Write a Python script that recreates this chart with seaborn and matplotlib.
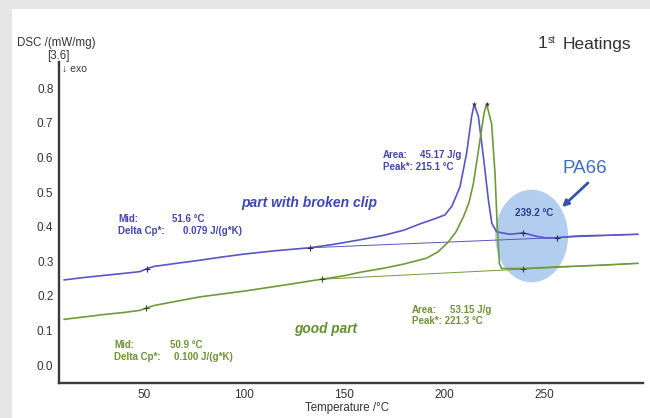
import numpy as np
import pandas as pd
import matplotlib
matplotlib.use("Agg")
import matplotlib.pyplot as plt
from matplotlib.patches import Ellipse, Rectangle, FancyArrowPatch
from matplotlib.ticker import MultipleLocator
import seaborn as sns

# ---------------- data ----------------
broken_T = [10, 20, 30, 40, 48, 51.6, 55, 65, 78, 90, 100.5, 115, 133, 145, 158, 170,
            180, 188, 195, 200.5, 204, 208, 211.3, 213.8, 215.1, 217.2, 219.7, 222.2,
            223.9, 226.3, 233, 239.7, 246.3, 251.3, 256.3, 266.3, 280, 297]
broken_dsc = [0.246, 0.253, 0.259, 0.265, 0.270, 0.279, 0.285, 0.293, 0.303, 0.313, 0.321,
              0.330, 0.339, 0.349, 0.362, 0.375, 0.390, 0.408, 0.422, 0.434, 0.460, 0.515,
              0.612, 0.718, 0.754, 0.718, 0.602, 0.477, 0.410, 0.385, 0.378, 0.382, 0.372,
              0.367, 0.368, 0.373, 0.375, 0.378]

good_T = [10, 20, 30, 40, 48, 50.9, 55, 65, 78, 90, 100.5, 120, 138.8, 150, 158, 170, 180,
          191.3, 197, 202.2, 206, 209.7, 212.5, 214.7, 218, 220, 221.3, 223.8, 225.5,
          226.7, 227.7, 228.8, 239.7, 258, 280, 297]
good_dsc = [0.132, 0.139, 0.146, 0.152, 0.158, 0.164, 0.172, 0.183, 0.197, 0.206, 0.214,
            0.231, 0.248, 0.258, 0.268, 0.280, 0.292, 0.309, 0.327, 0.356, 0.385, 0.428,
            0.470, 0.525, 0.650, 0.728, 0.754, 0.698, 0.554, 0.390, 0.294, 0.279, 0.279,
            0.284, 0.289, 0.294]

broken_base_T = [133, 297]
broken_base_dsc = [0.339, 0.378]
good_base_T = [138.8, 297]
good_base_dsc = [0.248, 0.294]

broken_marks_T = [51.6, 133, 239.7, 256.3]
broken_marks_dsc = [0.279, 0.339, 0.382, 0.368]
good_marks_T = [50.9, 138.8, 239.7]
good_marks_dsc = [0.164, 0.248, 0.279]
peaks_T = [215.1, 221.3]
peaks_dsc = [0.754, 0.754]

x_ticks = [50, 100, 150, 200, 250]
y_ticks = [0.0, 0.1, 0.2, 0.3, 0.4, 0.5, 0.6, 0.7, 0.8]

BLUE = "#5856c4"
GREEN = "#6f9a3c"
BLUE_TXT = "#4446a8"
GREEN_TXT = "#6f9236"

# ---------------- figure ----------------
sns.set_theme(style="white")
plt.rcParams["font.family"] = ["Liberation Sans", "DejaVu Sans"]

W, H = 650, 418
fig = plt.figure(figsize=(W / 100, H / 100), dpi=100, facecolor="#e6e6e6")
fig.patches.append(Rectangle((12 / W, 0), 1, (H - 9) / H, transform=fig.transFigure,
                             facecolor="white", edgecolor="none", zorder=-10))


def fx(x):
    return x / W


def fy(y):
    return 1 - y / H


ax = fig.add_axes([fx(59), fy(383), (643 - 59) / W, (383 - 62) / H])
ax.set_facecolor("none")

curves = pd.concat([
    pd.DataFrame({"T": broken_T, "DSC": broken_dsc, "sample": "broken"}),
    pd.DataFrame({"T": good_T, "DSC": good_dsc, "sample": "good"}),
])
bases = pd.concat([
    pd.DataFrame({"T": broken_base_T, "DSC": broken_base_dsc, "sample": "broken"}),
    pd.DataFrame({"T": good_base_T, "DSC": good_base_dsc, "sample": "good"}),
])
pal = {"broken": BLUE, "good": GREEN}

ax.add_patch(Ellipse((243.8, 0.373), 36.5, 0.268, facecolor="#abc8ee",
                     edgecolor="none", alpha=0.9, zorder=1))

sns.lineplot(data=bases, x="T", y="DSC", hue="sample", palette=pal, lw=0.7,
             legend=False, ax=ax, zorder=2, sort=False)
sns.lineplot(data=curves, x="T", y="DSC", hue="sample", palette=pal, lw=1.2,
             legend=False, ax=ax, zorder=3, sort=False)

ax.scatter(broken_marks_T, broken_marks_dsc, marker="+", s=24, color="#2a2a60",
           lw=0.8, zorder=4)
ax.scatter(good_marks_T, good_marks_dsc, marker="+", s=24, color="#3a4a20",
           lw=0.8, zorder=4)
ax.scatter(peaks_T, peaks_dsc, marker="*", s=16, color="#333333", lw=0, zorder=4)

ax.set_xlim(7.5, 299.5)
ax.set_ylim(-0.052, 0.876)
ax.set_xticks(x_ticks)
ax.set_yticks(y_ticks)
ax.set_yticklabels([f"{v:.1f}" for v in y_ticks])
ax.xaxis.set_minor_locator(MultipleLocator(10))
ax.yaxis.set_minor_locator(MultipleLocator(0.02))
for s in ["top", "right"]:
    ax.spines[s].set_visible(False)
for s in ["left", "bottom"]:
    ax.spines[s].set_color("#3a3a3a")
    ax.spines[s].set_linewidth(1.7)
ax.tick_params(axis="both", which="major", direction="inout", length=4, width=0.8,
               colors="#444444", labelsize=8.5, labelcolor="#333333", pad=2)
ax.tick_params(axis="both", which="minor", direction="inout", length=2.5, width=0.6,
               colors="#555555")
ax.set_xlabel("")
ax.set_ylabel("")

# ---------------- texts ----------------
small = dict(fontsize=8.3, color="#333333", va="center")
fig.text(fx(17), fy(43), "DSC /(mW/mg)", **small)
fig.text(fx(47), fy(56), "[3.6]", **small)
fig.text(fx(62), fy(69), "\u2193 exo", fontsize=7.5, color="#333333", va="center")
fig.text(fx(347), fy(408), "Temperature /\u00b0C", fontsize=8.3, color="#333333",
         ha="center", va="center")

fig.text(fx(538), fy(44), "1", fontsize=12.5, color="#333333", va="center")
fig.text(fx(548), fy(40), "st", fontsize=7, color="#333333", va="center")
fig.text(fx(563), fy(44), "Heatings", fontsize=12.5, color="#333333", va="center")

bold = dict(fontsize=7, fontweight="bold", va="center")
fig.text(fx(118), fy(219), "Mid:", color=BLUE_TXT, **bold)
fig.text(fx(172), fy(219), "51.6 \u00b0C", color=BLUE_TXT, **bold)
fig.text(fx(118), fy(231.5), "Delta Cp*:", color=BLUE_TXT, **bold)
fig.text(fx(183), fy(231.5), "0.079 J/(g*K)", color=BLUE_TXT, **bold)

fig.text(fx(114), fy(345.5), "Mid:", color=GREEN_TXT, **bold)
fig.text(fx(170), fy(345.5), "50.9 \u00b0C", color=GREEN_TXT, **bold)
fig.text(fx(114), fy(357.5), "Delta Cp*:", color=GREEN_TXT, **bold)
fig.text(fx(174), fy(357.5), "0.100 J/(g*K)", color=GREEN_TXT, **bold)

fig.text(fx(383), fy(155), "Area:", color=BLUE_TXT, **bold)
fig.text(fx(420), fy(155), "45.17 J/g", color=BLUE_TXT, **bold)
fig.text(fx(383), fy(167), "Peak*: 215.1 \u00b0C", color=BLUE_TXT, **bold)

fig.text(fx(411.5), fy(310), "Area:", color=GREEN_TXT, **bold)
fig.text(fx(450), fy(310), "53.15 J/g", color=GREEN_TXT, **bold)
fig.text(fx(411.5), fy(321.5), "Peak*: 221.3 \u00b0C", color=GREEN_TXT, **bold)

fig.text(fx(515), fy(213), "239.2 \u00b0C", color="#2c3a88", **bold)

fig.text(fx(309), fy(203), "part with broken clip", fontsize=10, fontweight="bold",
         fontstyle="italic", color="#3d46b4", ha="center", va="center")
fig.text(fx(326), fy(329), "good part", fontsize=9.8, fontweight="bold",
         fontstyle="italic", color="#5f8f2f", ha="center", va="center")

fig.text(fx(585), fy(169), "PA66", fontsize=13.5, color="#3d6fc0",
         ha="center", va="center")
fig.patches.append(FancyArrowPatch((fx(590), fy(181)), (fx(560), fy(209)),
                                   transform=fig.transFigure, arrowstyle="-|>",
                                   mutation_scale=9, lw=2, color="#3355aa"))

fig.savefig("out.png", dpi=100, facecolor=fig.get_facecolor())
